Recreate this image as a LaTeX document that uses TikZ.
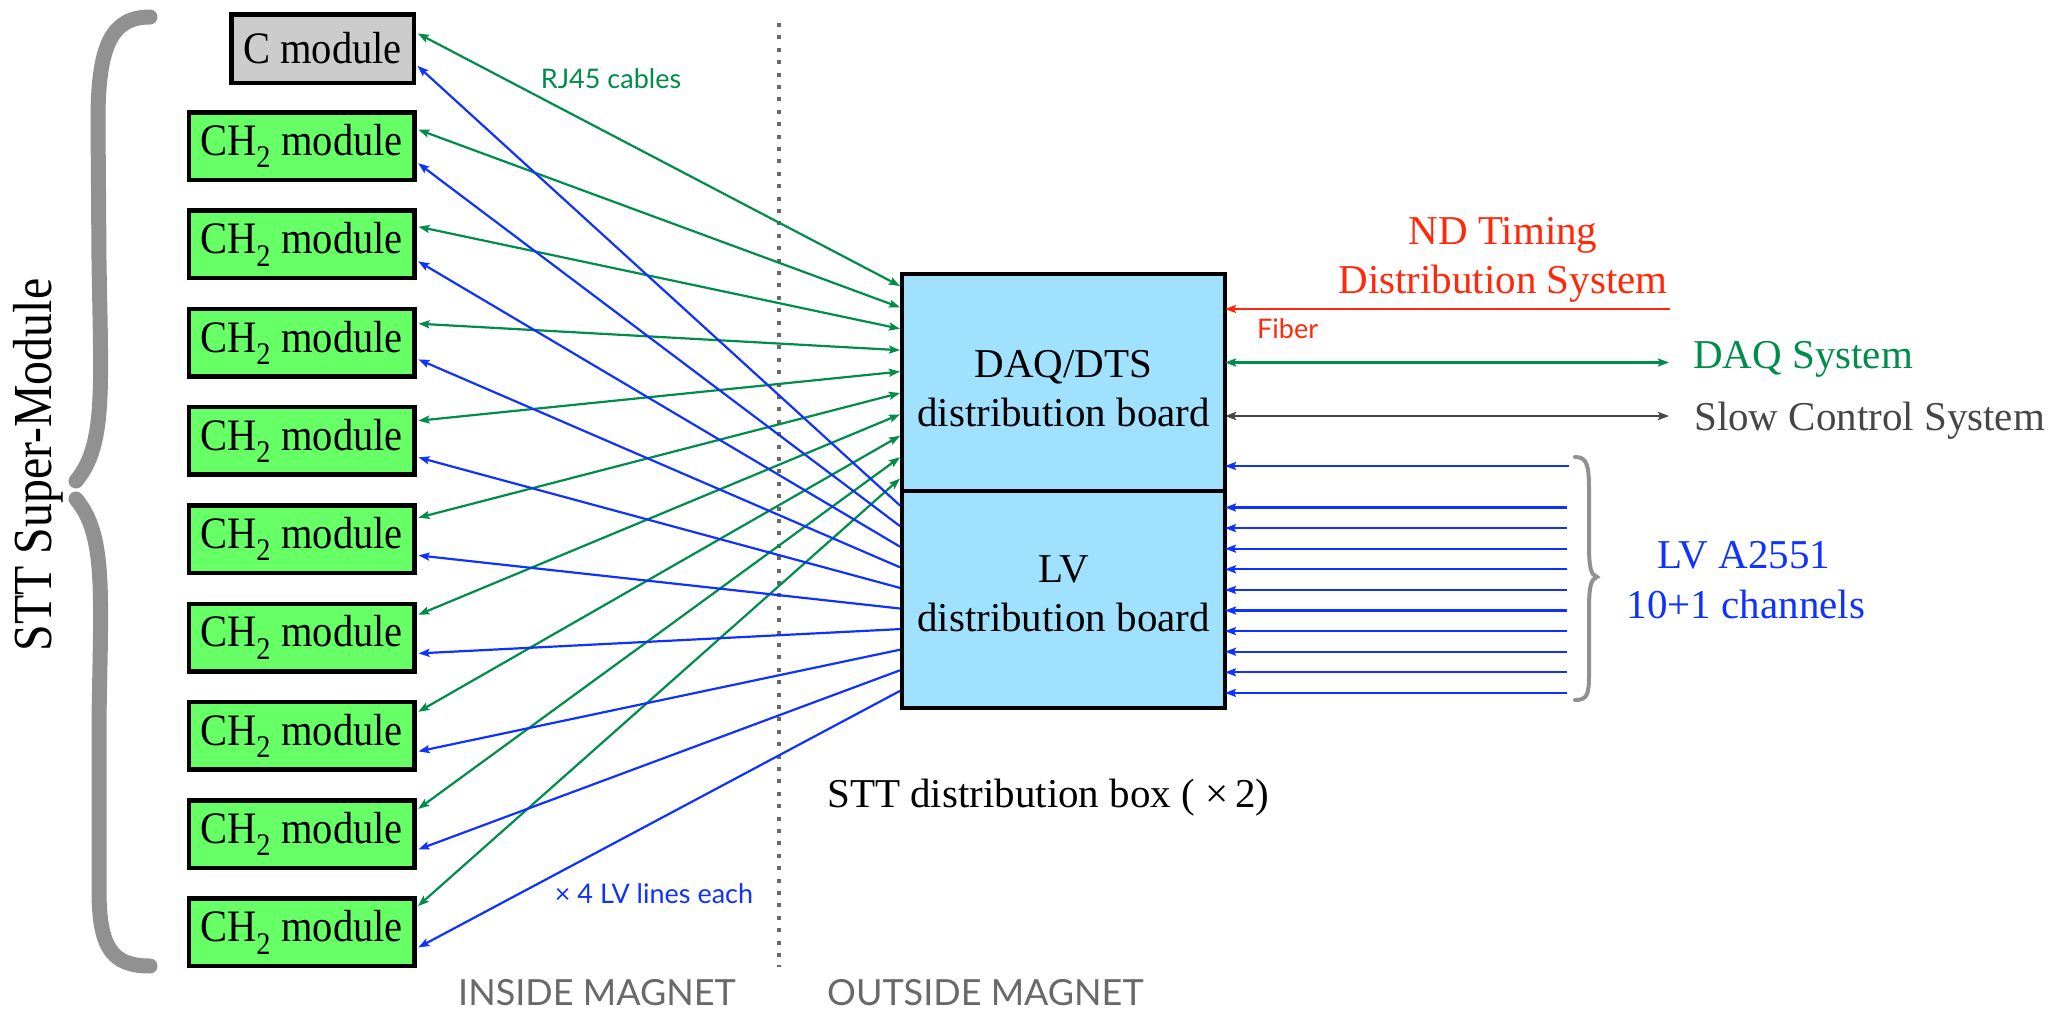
\documentclass[tikz,border=0pt]{standalone}
\usepackage{fontspec}
\setmainfont{Liberation Serif}
\newfontfamily\condserif{Liberation Serif}[FakeStretch=0.9]
\newfontfamily\titleserif{Liberation Serif}[FakeStretch=0.87]
\newfontfamily\humsans{Lato}
\usetikzlibrary{arrows.meta,calc}
\definecolor{cgreen}{RGB}{0,140,75}
\definecolor{cblue}{RGB}{15,50,255}
\definecolor{cred}{RGB}{255,40,10}
\definecolor{cgray}{RGB}{70,70,70}
\definecolor{lgray}{RGB}{105,105,105}
\definecolor{bracegray}{RGB}{145,145,145}
\definecolor{modgreen}{RGB}{102,255,102}
\definecolor{modgray}{RGB}{204,204,204}
\definecolor{boxblue}{RGB}{160,225,255}
\begin{document}
\begin{tikzpicture}[x=1pt,y=-1pt,
  big/.style={font=\fontsize{41}{50}\selectfont,inner sep=0pt},
  small/.style={font=\humsans\fontsize{27}{32}\selectfont,inner sep=0pt},
  region/.style={font=\humsans\fontsize{36}{40}\selectfont,inner sep=0pt,text=lgray},
  modbox/.style={draw=black,line width=4.5pt,fill=modgreen,minimum width=225.5pt,
    minimum height=67.5pt,inner sep=0pt,font=\condserif\fontsize{45}{50}\selectfont},
  cbox/.style={modbox,fill=modgray,minimum width=182.5pt,minimum height=68.5pt},
  distbox/.style={draw=black,line width=4pt,fill=boxblue,minimum width=323pt,
    minimum height=217pt,inner sep=0pt},
  conn/.style={line width=2.2pt,>={Stealth[length=11pt,width=8pt,inset=2pt]}},
  gline/.style={conn,draw=cgreen},
  bline/.style={conn,draw=cblue},
  rline/.style={conn,draw=cred},
  kline/.style={conn,draw=cgray},
  bracestyle/.style={draw=bracegray,line cap=round}
]
\path[use as bounding box,fill=white] (0,0) rectangle (2057,1012);

% divider
\draw[lgray,line width=4pt,dash pattern=on 4pt off 8.4pt] (779,23) -- (779,967);

% modules
\node[cbox] (m0) at (322.5,48.5) {C module};
\foreach \i in {1,...,9}{
  \node[modbox] (m\i) at (301.5,{146+98.3*(\i-1)}) {CH\textsubscript{2} module};
}

% distribution boxes
\node[distbox] (daq) at (1063.5,382.5) {};
\node[distbox] (lv) at (1063.5,599.5) {};
\node[big,anchor=base] (daqt1) at (1063.5,377) {DAQ/DTS};
\node[big,anchor=base] (daqt2) at (1063.5,426) {distribution board};
\node[big,anchor=base] (lvt1) at (1063.5,582.5) {LV};
\node[big,anchor=base] (lvt2) at (1063.5,631.5) {distribution board};

% green RJ45 connectors
\foreach \k in {0,...,9}{
  \draw[gline,<->,shorten <=2pt] ([yshift={16pt+1pt*\k}]m\k.east) -- ([yshift={-14pt-21.4pt*\k}]daq.north west);
}
% blue LV connectors
\foreach \k in {0,...,9}{
  \draw[bline,->,shorten >=2pt] ([yshift={-16.5pt-20.6pt*\k}]lv.north west) -- ([yshift=-16pt]m\k.east);
}

% right side
\node[big,text=cred,anchor=base] (tds1) at (1503,244) {ND Timing};
\node[big,text=cred,anchor=base] (tds2) at (1503,293) {Distribution System};
\node[big,text=cgreen,anchor=base west] (daqsys) at (1693,368.5) {DAQ System};
\node[big,text=cgray,anchor=base west] (slow) at (1694,430) {Slow Control System};
\node[big,text=cblue,anchor=base] (lva) at (1744,568) {LV A2551};
\node[big,text=cblue,anchor=base] (lvb) at (1746,618) {10+1 channels};
\node[small,text=cred,anchor=base west] (fiber) at (1257,338.6) {Fiber};

\coordinate (redend) at (1670,309);
\coordinate (daqend) at (1669,362.5);
\coordinate (slowend) at (1669,416);
\draw[rline,->,shorten >=-2pt] (redend) -- (redend -| daq.east);
\draw[gline,<->,shorten >=-2pt] (daqend) -- (daqend -| daq.east);
\draw[kline,<->,shorten >=-2pt] (slowend) -- (slowend -| daq.east);

\coordinate (lvin0) at (1569,466);
\draw[bline,->,shorten >=-2pt] (lvin0) -- (lvin0 -| daq.east);
\foreach \k in {1,...,10}{
  \coordinate (lvin\k) at (1567,{507.5+20.6*(\k-1)});
  \draw[bline,->,shorten >=-2pt] (lvin\k) -- (lvin\k -| lv.east);
}

% right brace
\draw[bracestyle,line width=4pt] (1575,457) .. controls (1587,457) and (1589,465) .. (1589,490)
  -- (1589,545) .. controls (1589,568) and (1591,575) .. (1597,577)
  .. controls (1591,579) and (1589,586) .. (1589,610)
  -- (1589,675) .. controls (1589,695) and (1587,700) .. (1575,700);

% left brace
\draw[bracestyle,line width=15pt] (150,17) .. controls (112,17) and (98,45) .. (98,120)
  -- (99,260) .. controls (101,390) and (106,445) .. (76,481);
\draw[bracestyle,line width=15pt] (76,499) .. controls (106,535) and (101,590) .. (99,720)
  -- (99,890) .. controls (99,948) and (112,966) .. (150,966);
\node[font=\titleserif\fontsize{55}{60}\selectfont,inner sep=0pt,rotate=90,anchor=base] (stt) at (51,465) {STT Super-Module};

% labels
\node[small,text=cgreen,anchor=base] (rj45) at (611,88) {RJ45 cables};
\node[small,text=cblue,anchor=base] (lvlines) at (654,903) {× 4 LV lines each};
\node[big,anchor=base west] (sttbox) at (827,807) {STT distribution box ( ×\,2)};
\node[region,anchor=base] (inside) at (597,1005) {INSIDE MAGNET};
\node[region,anchor=base west] (outside) at (827,1005) {OUTSIDE MAGNET};
\end{tikzpicture}
\end{document}
